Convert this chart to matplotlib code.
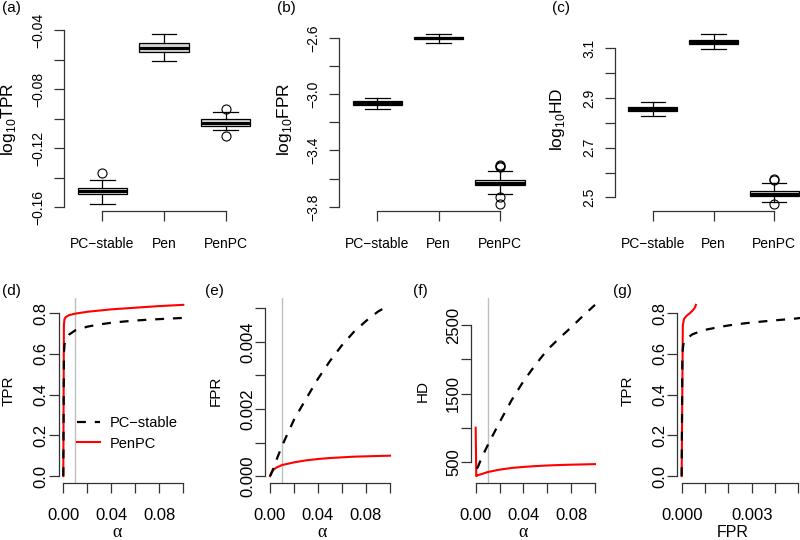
import matplotlib
matplotlib.use('Agg')
import matplotlib.pyplot as plt
import numpy as np

plt.rcParams['font.family'] = ['Liberation Sans', 'DejaVu Sans']
plt.rcParams['mathtext.fontset'] = 'custom'
plt.rcParams['mathtext.rm'] = 'Liberation Sans'

W, H = 800, 540
AXC = '#333333'

# ---- top row: boxplots of log10 TPR / FPR / HD ----
methods = ['PC\u2212stable', 'Pen', 'PenPC']

tpr_med = [-0.1489, -0.0524, -0.1028]
tpr_q1 = [-0.1512, -0.0547, -0.1051]
tpr_q3 = [-0.1469, -0.0488, -0.1003]
tpr_lo = [-0.1580, -0.0608, -0.1078]
tpr_hi = [-0.1417, -0.0425, -0.0956]
tpr_out = [[-0.1367], [], [-0.0933, -0.1117]]

fpr_med = [-3.064, -2.602, -3.630]
fpr_q1 = [-3.076, -2.612, -3.648]
fpr_q3 = [-3.052, -2.592, -3.611]
fpr_lo = [-3.109, -2.638, -3.706]
fpr_hi = [-3.026, -2.572, -3.545]
fpr_out = [[], [], [-3.504, -3.512, -3.518, -3.729, -3.781]]

hd_med = [2.856, 3.127, 2.516]
hd_q1 = [2.848, 3.118, 2.506]
hd_q3 = [2.864, 3.136, 2.527]
hd_lo = [2.827, 3.098, 2.481]
hd_hi = [2.886, 3.159, 2.558]
hd_out = [[], [], [2.571, 2.575, 2.473]]

# ---- bottom row: curves against alpha ----
alpha = [0, 0.0005, 0.001, 0.002, 0.005, 0.01, 0.02, 0.03, 0.04, 0.05, 0.06, 0.07, 0.08, 0.09, 0.1]
tpr_pc = [0, 0.60, 0.645, 0.668, 0.695, 0.715, 0.733, 0.744, 0.752, 0.758, 0.763, 0.767, 0.770, 0.773, 0.776]
tpr_pen = [0, 0.74, 0.770, 0.780, 0.790, 0.797, 0.806, 0.812, 0.818, 0.822, 0.826, 0.830, 0.834, 0.837, 0.840]
fpr_pc = [0, 0.00003, 0.00007, 0.00015, 0.00045, 0.0009, 0.00168, 0.0023, 0.0029, 0.00343, 0.0039, 0.0043, 0.00462, 0.0049, 0.0051]
fpr_pen = [0, 0.00005, 0.0001, 0.00016, 0.00025, 0.00033, 0.00041, 0.00047, 0.00051, 0.00054, 0.00056, 0.00058, 0.00059, 0.0006, 0.00061]
hd_pc = [np.nan, np.nan, 400, 430, 560, 740, 1080, 1400, 1680, 1920, 2140, 2310, 2470, 2640, 2800]
hd_pen = [1000, 290, 295, 305, 320, 350, 385, 410, 425, 437, 446, 453, 458, 462, 466]
alpha_ref = 0.01


def rlim(*arrs):
    # R's default 4% axis extension
    v = np.concatenate([np.ravel(np.asarray(a, dtype=float)) for a in arrs])
    lo, hi = np.nanmin(v), np.nanmax(v)
    d = 0.04 * (hi - lo)
    return lo - d, hi + d


def fmt(v, nd):
    return f'{v:.{nd}f}'.replace('-', '\u2212')


def px_axes(left, right, top, bottom):
    return fig.add_axes([left / W, 1 - bottom / H, (right - left) / W, (bottom - top) / H])


def ptext(x, y, s, **kw):
    fig.text(x / W, 1 - y / H, s, **kw)


def r_axes(ax, xt, xl, yt, yl, fs, xpad, ypad):
    for s in ['top', 'right']:
        ax.spines[s].set_visible(False)
    for s in ['left', 'bottom']:
        ax.spines[s].set_color(AXC)
        ax.spines[s].set_linewidth(0.9)
    ax.spines['left'].set_bounds(yt[0], yt[-1])
    ax.spines['bottom'].set_bounds(xt[0], xt[-1])
    ax.set_xticks(xt, xl)
    ax.set_yticks(yt, yl)
    ax.tick_params(length=7, width=0.9, color=AXC, labelsize=fs)
    ax.tick_params(axis='x', pad=xpad)
    ax.tick_params(axis='y', pad=ypad)
    for t in ax.get_yticklabels():
        t.set_rotation(90)
        t.set_va('center')
    ax.patch.set_visible(False)


def every_other(ticks, nd, keep=(0, 2, 4, 6)):
    return [fmt(t, nd) if i in keep else '' for i, t in enumerate(ticks)]


fig = plt.figure(figsize=(8, 5.4), dpi=100)

# ---------------- top row ----------------
top_boxes = [
    (64, 264, 'log$_{\\mathrm{10}}$TPR', tpr_med, tpr_q1, tpr_q3, tpr_lo, tpr_hi, tpr_out,
     [-0.16, -0.14, -0.12, -0.10, -0.08, -0.06, -0.04], 2, 13, '(a)', 2),
    (339.3, 538, 'log$_{\\mathrm{10}}$FPR', fpr_med, fpr_q1, fpr_q3, fpr_lo, fpr_hi, fpr_out,
     [-3.8, -3.6, -3.4, -3.2, -3.0, -2.8, -2.6], 1, 289, '(b)', 277),
    (615, 812, 'log$_{\\mathrm{10}}$HD', hd_med, hd_q1, hd_q3, hd_lo, hd_hi, hd_out,
     [2.5, 2.6, 2.7, 2.8, 2.9, 3.0, 3.1], 1, 562, '(c)', 552),
]

for left, right, lab, med, q1, q3, lo, hi, out, yt, nd, labx, letter, letx in top_boxes:
    ax = px_axes(left, right, 27, 211)
    stats = [dict(med=med[i], q1=q1[i], q3=q3[i], whislo=lo[i], whishi=hi[i], fliers=out[i])
             for i in range(3)]
    ax.bxp(stats, positions=[1, 2, 3], widths=0.8, capwidths=0.4, patch_artist=True,
           boxprops=dict(facecolor='#d3d3d3', edgecolor='black', linewidth=0.9),
           medianprops=dict(color='black', linewidth=2.2, solid_capstyle='butt'),
           whiskerprops=dict(color='black', linewidth=0.9),
           capprops=dict(color='black', linewidth=0.9),
           flierprops=dict(marker='o', markerfacecolor='none', markeredgecolor='black',
                           markersize=6.5, markeredgewidth=0.8))
    ax.set_xlim(rlim([0.5, 3.5]))
    ax.set_ylim(rlim(lo, hi, *[o for o in out if o]))
    r_axes(ax, [1, 2, 3], methods, yt, every_other(yt, nd), 10, 12, 6.5)
    ptext(labx, 119, lab, rotation=90, rotation_mode='anchor', ha='center', va='baseline',
          fontsize=12.5)
    ptext(letx, 1, letter, ha='left', va='top', fontsize=11)

# ---------------- bottom row ----------------
x_alpha = [0, 0.02, 0.04, 0.06, 0.08, 0.10]
x_alpha_lab = every_other(x_alpha, 2, keep=(0, 2, 4))
tpr_ticks = [0, 0.2, 0.4, 0.6, 0.8]
tpr_lab = [fmt(t, 1) for t in tpr_ticks]
dash = (0, (4, 4))
YL = 11

# (d) TPR vs alpha
ax = px_axes(58.5, 188.1, 298, 483)
ax.axvline(alpha_ref, color='#bebebe', lw=1)
l_pen, = ax.plot(alpha, tpr_pen, color='red', lw=1.5, label='PenPC')
l_pc, = ax.plot(alpha, tpr_pc, color='black', lw=1.6, ls=dash, label='PC\u2212stable')
ax.set_xlim(rlim(alpha))
ax.set_ylim(rlim(tpr_pc, tpr_pen))
r_axes(ax, x_alpha, x_alpha_lab, tpr_ticks, tpr_lab, 12, 11, 0)
ax.legend(handles=[l_pc, l_pen], loc='center left', frameon=False, fontsize=10.5,
          bbox_to_anchor=(76.7 / W, 1 - 433.3 / H), bbox_transform=fig.transFigure,
          borderpad=0, borderaxespad=0, handlelength=1.6, handletextpad=0.7, labelspacing=0.45)
ptext(12.5, 390.5, 'TPR', rotation=90, rotation_mode='anchor', ha='center', va='baseline', fontsize=YL)
ptext(117.5, 537, '\u03b1', ha='center', va='baseline', fontsize=13, family='Liberation Serif')
ptext(2, 284, '(d)', ha='left', va='top', fontsize=11)

# (e) FPR vs alpha
fpr_ticks = [0, 0.001, 0.002, 0.003, 0.004, 0.005]
ax = px_axes(265.2, 394.8, 298, 483)
ax.axvline(alpha_ref, color='#bebebe', lw=1)
ax.plot(alpha, fpr_pen, color='red', lw=1.5)
ax.plot(alpha, fpr_pc, color='black', lw=1.6, ls=dash)
ax.set_xlim(rlim(alpha))
ax.set_ylim(rlim(fpr_pc, fpr_pen))
r_axes(ax, x_alpha, x_alpha_lab, fpr_ticks, every_other(fpr_ticks, 3, keep=(0, 2, 4)), 12, 11, 0)
ptext(220, 390.5, 'FPR', rotation=90, rotation_mode='anchor', ha='center', va='baseline', fontsize=YL)
ptext(322.5, 537, '\u03b1', ha='center', va='baseline', fontsize=13, family='Liberation Serif')
ptext(205, 284, '(e)', ha='left', va='top', fontsize=11)

# (f) HD vs alpha
hd_ticks = [500, 1000, 1500, 2000, 2500]
ax = px_axes(470.9, 599.8, 298, 483)
ax.axvline(alpha_ref, color='#bebebe', lw=1)
ax.plot(alpha, hd_pen, color='red', lw=1.5)
ax.plot(alpha, hd_pc, color='black', lw=1.6, ls=dash)
ax.set_xlim(rlim(alpha))
ax.set_ylim(rlim(hd_pc, hd_pen))
r_axes(ax, x_alpha, x_alpha_lab, hd_ticks, every_other(hd_ticks, 0, keep=(0, 2, 4)), 12, 11, 0)
ptext(427, 390.5, 'HD', rotation=90, rotation_mode='anchor', ha='center', va='baseline', fontsize=YL)
ptext(523, 537, '\u03b1', ha='center', va='baseline', fontsize=13, family='Liberation Serif')
ptext(413, 284, '(f)', ha='left', va='top', fontsize=11)

# (g) TPR vs FPR
ax = px_axes(676.9, 805.4, 298, 483)
ax.plot(fpr_pen, tpr_pen, color='red', lw=1.5)
ax.plot(fpr_pc, tpr_pc, color='black', lw=1.6, ls=dash)
ax.set_xlim(rlim(fpr_pc, fpr_pen))
ax.set_ylim(rlim(tpr_pc, tpr_pen))
r_axes(ax, fpr_ticks, every_other(fpr_ticks, 3, keep=(0, 3)), tpr_ticks, tpr_lab, 12, 11, 0)
ptext(632, 390.5, 'TPR', rotation=90, rotation_mode='anchor', ha='center', va='baseline', fontsize=YL)
ptext(733, 537, 'FPR', ha='center', va='baseline', fontsize=11.5)
ptext(613, 284, '(g)', ha='left', va='top', fontsize=11)

fig.savefig('out.png', dpi=100)
